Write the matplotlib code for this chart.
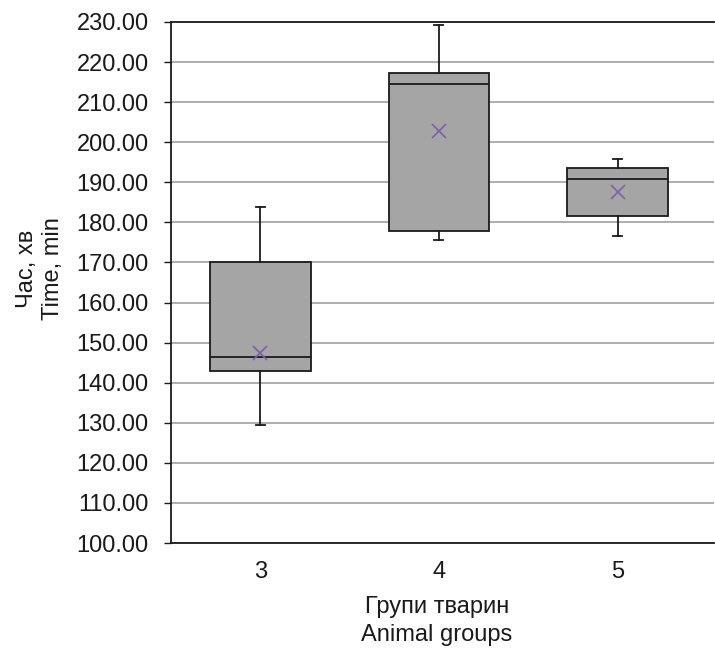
import numpy as np
import matplotlib
matplotlib.use("Agg")
import matplotlib.pyplot as plt

plt.rcParams['font.family'] = ['Liberation Sans', 'DejaVu Sans']

# дані
groups = ['3', '4', '5']
whisker_low = [129.4, 175.6, 176.7]
q1 = [142.8, 177.8, 181.7]
median = [146.3, 214.6, 190.9]
q3 = [170.0, 217.3, 193.5]
whisker_high = [183.9, 229.2, 195.8]
mean = [147.3, 202.9, 187.5]

stats = []
for i, g in enumerate(groups):
    stats.append({
        'label': g,
        'whislo': whisker_low[i],
        'q1': q1[i],
        'med': median[i],
        'q3': q3[i],
        'whishi': whisker_high[i],
        'mean': mean[i],
        'fliers': [],
    })

W, H = 715, 650
fig = plt.figure(figsize=(W / 100, H / 100), dpi=100)
ax = fig.add_axes([171 / W, 1 - 543 / H, (714 - 171) / W, (543 - 22) / H])

dark = '#1a1a1a'
positions = np.arange(1, len(groups) + 1)
ax.bxp(stats, positions=positions, widths=0.564, patch_artist=True,
       showmeans=True, showfliers=False,
       boxprops=dict(facecolor='#A5A5A5', edgecolor=dark, linewidth=1.3),
       medianprops=dict(color=dark, linewidth=1.3),
       whiskerprops=dict(color=dark, linewidth=1.3),
       capprops=dict(color=dark, linewidth=1.3),
       capwidths=0.05,
       meanprops=dict(marker='x', markeredgecolor='#7B5FA8', markersize=10,
                      markeredgewidth=1.2, linestyle='none'))

ax.set_xlim(0.5, 3.54)
ax.set_ylim(100, 230)
ax.set_yticks(np.arange(100, 231, 10))
ax.yaxis.set_major_formatter(matplotlib.ticker.FormatStrFormatter('%.2f'))
ax.set_xticks(positions)
ax.set_xticklabels(groups)

ax.grid(axis='y', color='#A0A0A0', linewidth=1.2)
ax.set_axisbelow(True)
ax.spines['right'].set_visible(False)
for s in ['top', 'left', 'bottom']:
    ax.spines[s].set_color(dark)
    ax.spines[s].set_linewidth(1.3)

ax.tick_params(axis='y', direction='out', length=5, width=1, labelsize=17,
               colors=dark, pad=11)
ax.tick_params(axis='x', length=0, labelsize=17, colors=dark, pad=13)

fig.text(40 / W, 1 - 269 / H, 'Час, хв\nTime, min', rotation=90,
         ha='center', va='center', fontsize=17, color=dark, linespacing=1.2)
fig.text(437 / W, 4 / H, 'Групи тварин\nAnimal groups',
         ha='center', va='bottom', fontsize=17, color=dark, linespacing=1.35)

fig.savefig('out.png', dpi=100)
